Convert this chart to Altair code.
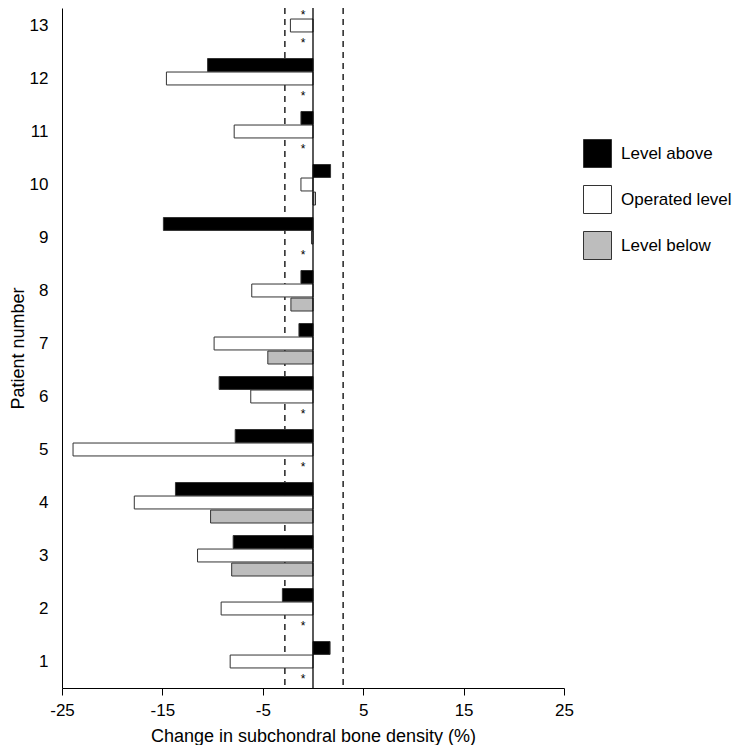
import altair as alt
import pandas as pd

patients = [1, 2, 3, 4, 5, 6, 7, 8, 9, 10, 11, 12, 13]
level_above = [1.7, -3.05, -7.95, -13.7, -7.75, -9.35, -1.4, -1.2, -14.9, 1.75, -1.2, -10.5, None]
operated_level = [-8.25, -9.15, -11.5, -17.8, -23.9, -6.2, -9.85, -6.1, -0.15, -1.2, -7.85, -14.6, -2.25]
level_below = [None, None, -8.1, -10.2, None, None, -4.5, -2.2, None, 0.25, None, None, None]

levels = ["Level above", "Operated level", "Level below"]
level_colors = ["#000000", "#ffffff", "#bdbdbd"]
slot_offsets = [0.255, 0.0, -0.265]
half_bar = 0.122
asterisk_x = -1.0
dashed_limits = [-2.8, 3.0]
x_ticks = [-25, -15, -5, 5, 15, 25]

rows, stars = [], []
for lvl, off, vals in zip(levels, slot_offsets, [level_above, operated_level, level_below]):
    for p, v in zip(patients, vals):
        yc = p + off
        if v is None:
            stars.append({"x": asterisk_x, "y": yc, "t": "*"})
        else:
            rows.append({"patient": p, "level": lvl, "value": v, "zero": 0.0,
                         "y0": yc - half_bar, "y1": yc + half_bar})
bars_df = pd.DataFrame(rows)
stars_df = pd.DataFrame(stars)

FONT = "Liberation Sans"
xscale = alt.Scale(domain=[-25, 25], nice=False, zero=False)
yscale = alt.Scale(domain=[0.5, 13.33], nice=False, zero=False)

bars = alt.Chart(bars_df).mark_bar(stroke="#333333", strokeWidth=1).encode(
    x=alt.X("value:Q", scale=xscale,
            axis=alt.Axis(values=x_ticks, title="Change in subchondral bone density (%)",
                          grid=False, tickSize=7, tickColor="#000", domainColor="#000",
                          labelFontSize=17, titleFontSize=18, labelPadding=7,
                          titlePadding=9, labelColor="#000", titleColor="#000",
                          titleFontWeight="normal", labelFont=FONT, titleFont=FONT,
                          labelFlush=False, labelExpr="toString(datum.value)")),
    x2="zero:Q",
    y=alt.Y("y0:Q", scale=yscale,
            axis=alt.Axis(values=patients, title="Patient number", grid=False, ticks=False,
                          labelFontSize=17, titleFontSize=18, labelPadding=14,
                          titlePadding=2, labelColor="#000", titleColor="#000",
                          titleFontWeight="normal", domainColor="#000",
                          labelFont=FONT, titleFont=FONT, labelFlush=False)),
    y2="y1:Q",
    color=alt.Color("level:N", scale=alt.Scale(domain=levels, range=level_colors),
                    legend=alt.Legend(title=None, orient="none", legendX=521, legendY=131,
                                      symbolType="square", symbolSize=784,
                                      symbolStrokeColor="#333333", symbolStrokeWidth=1,
                                      labelFontSize=17, labelFont=FONT, labelColor="#000",
                                      rowPadding=13, labelOffset=9)),
)

zero_line = alt.Chart(pd.DataFrame({"x": [0.0]})).mark_rule(color="#000", strokeWidth=1.3).encode(
    x=alt.X("x:Q", scale=xscale))
dashed = alt.Chart(pd.DataFrame({"x": dashed_limits})).mark_rule(
    color="#000", strokeWidth=1.3, strokeDash=[6, 5]).encode(x=alt.X("x:Q", scale=xscale))
asterisks = alt.Chart(stars_df).mark_text(fontSize=12, font=FONT, baseline="middle", dy=3).encode(
    x=alt.X("x:Q", scale=xscale), y=alt.Y("y:Q", scale=yscale), text="t:N")

chart = alt.layer(dashed, bars, zero_line, asterisks).properties(
    width=502, height=680, autosize="none", background="white",
    padding={"left": 54, "top": 0, "right": 170, "bottom": 57},
).configure_view(stroke=None)

chart.save("out.html", embed_options={"renderer": "svg", "actions": False})
